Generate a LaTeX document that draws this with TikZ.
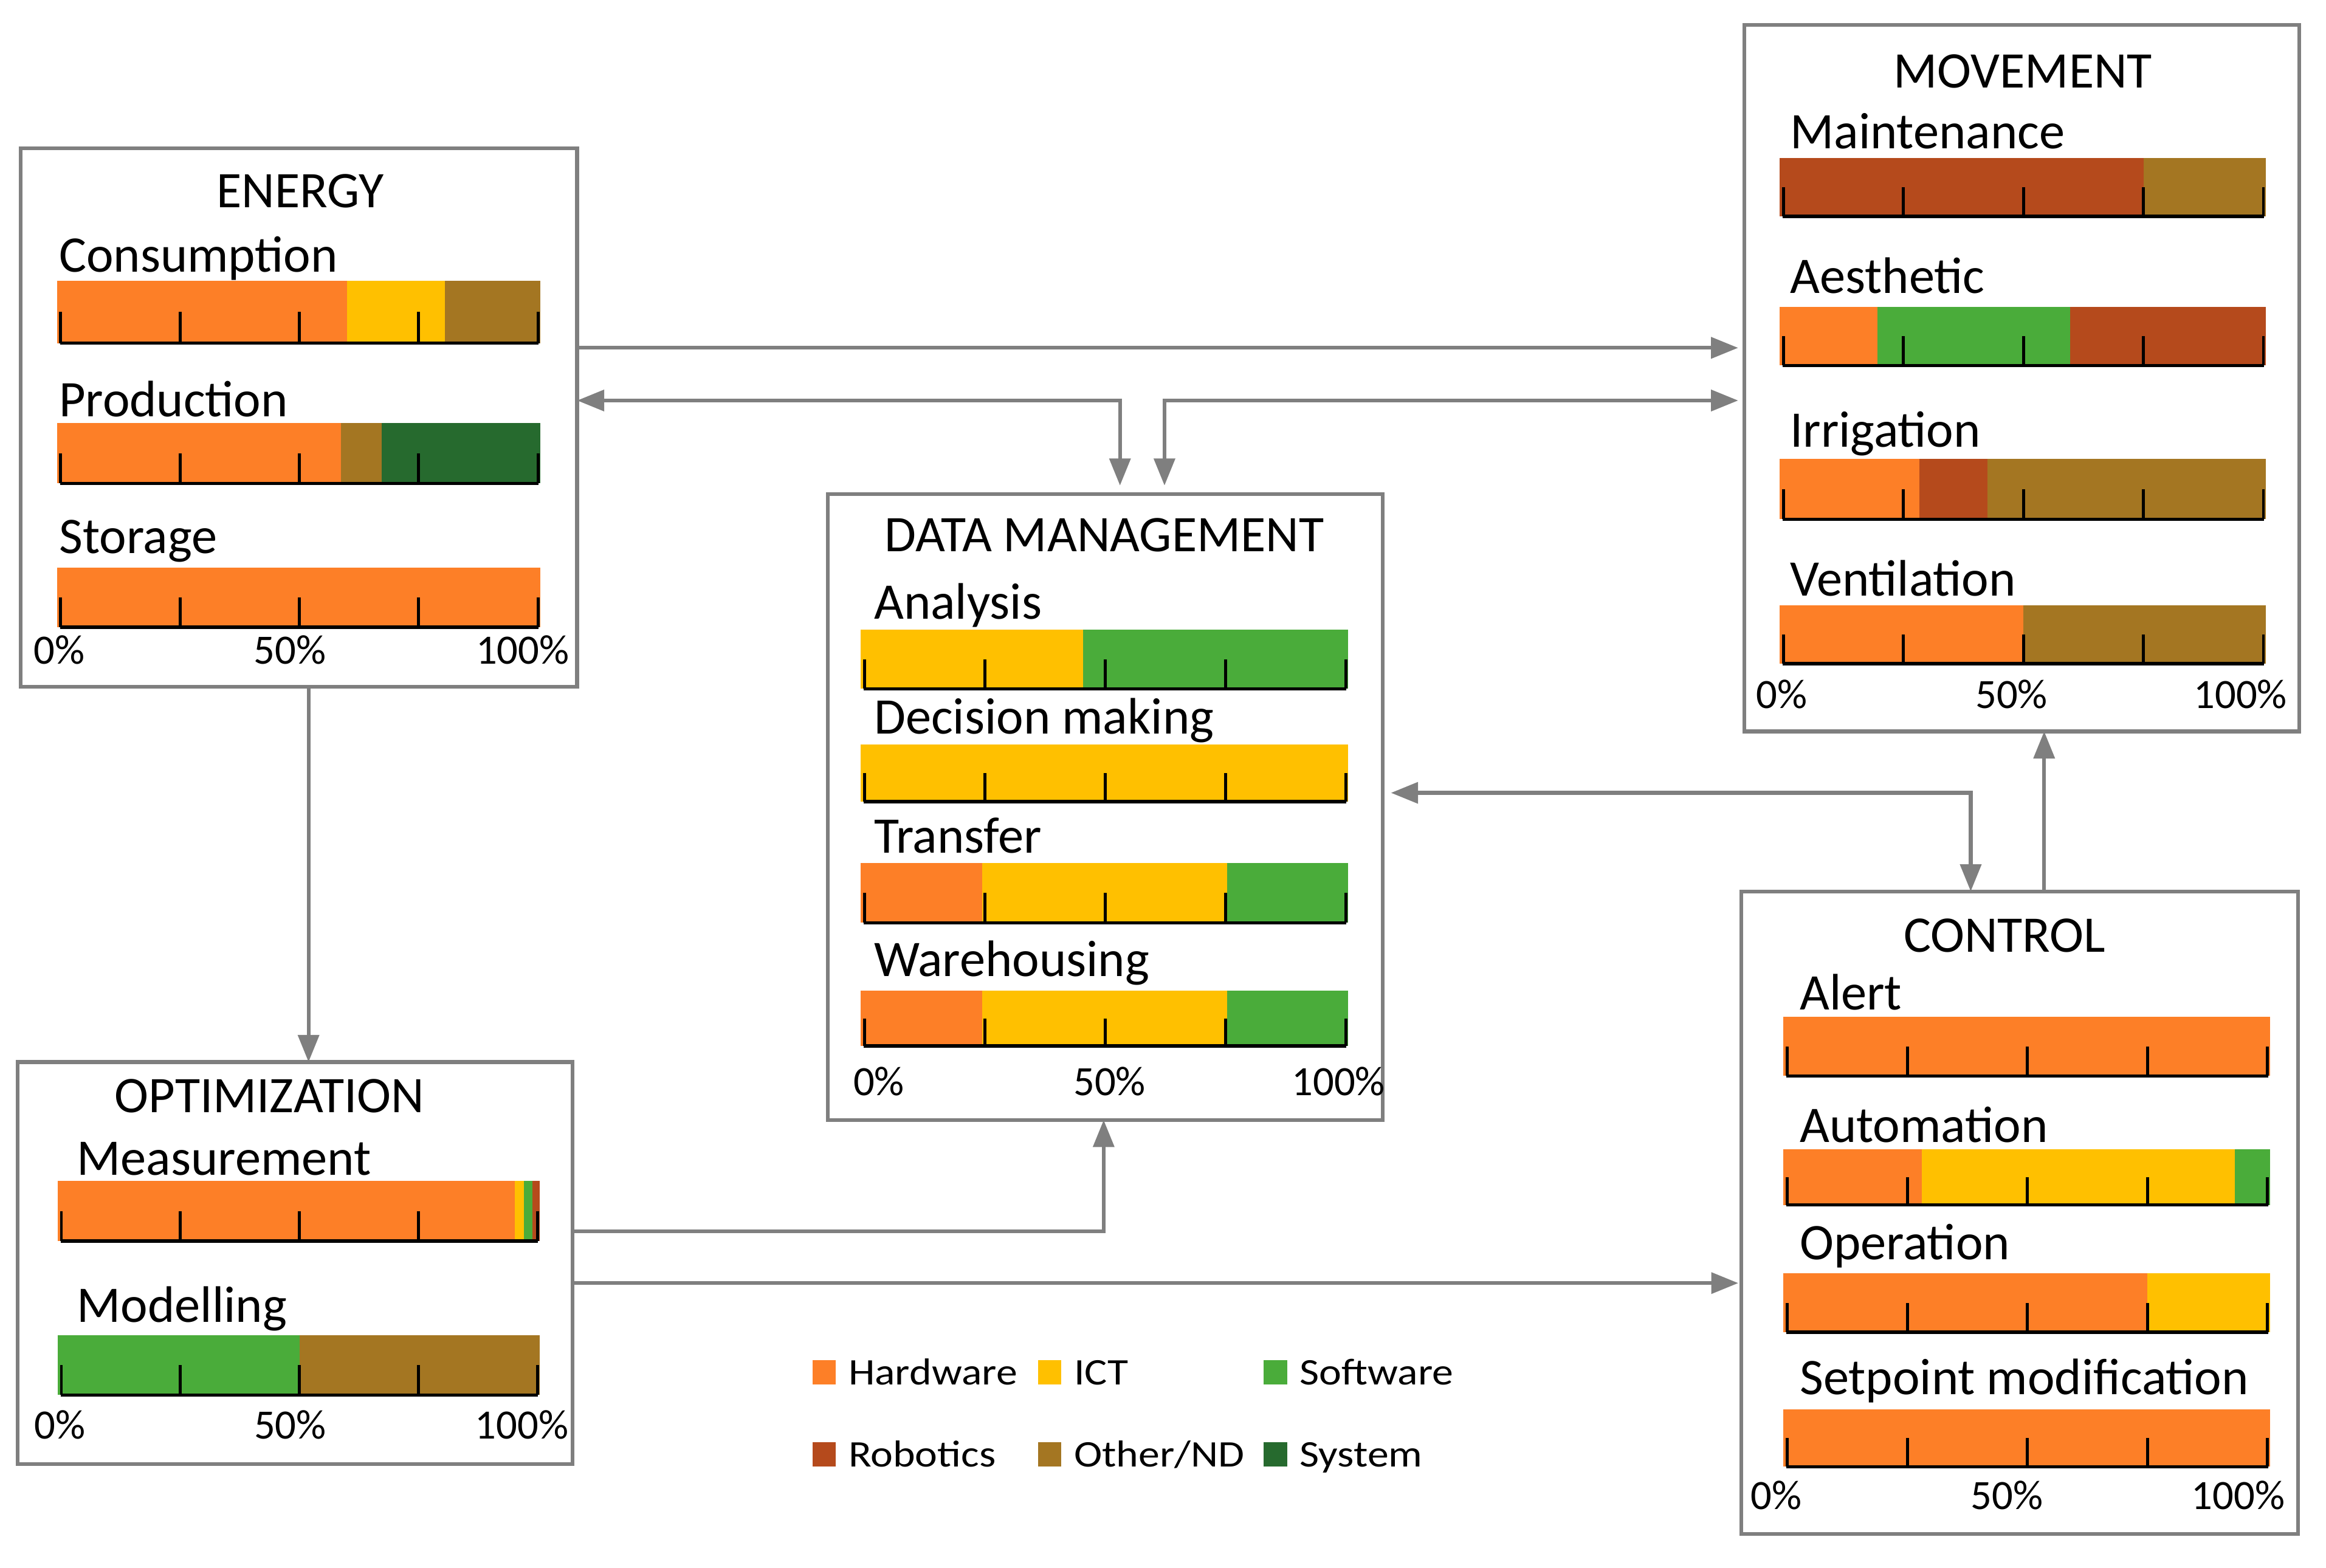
\documentclass[tikz,border=0pt]{standalone}
\usepackage{fontspec}
\setmainfont{Carlito}
\newfontfamily\legfont[FakeStretch=1.13]{Carlito}
\usetikzlibrary{arrows.meta}
\definecolor{hw}{RGB}{253,127,39}
\definecolor{ict}{RGB}{255,192,0}
\definecolor{sw}{RGB}{74,172,58}
\definecolor{rob}{RGB}{181,74,28}
\definecolor{oth}{RGB}{164,118,34}
\definecolor{sys}{RGB}{38,106,46}
\definecolor{lg}{RGB}{127,127,127}
\tikzset{
  box/.style={draw=lg, line width=1.8pt, inner sep=0pt, outer sep=0pt},
  conn/.style={draw=lg, line width=1.8pt, -{Triangle[length=13pt,width=10pt]}},
  both/.style={draw=lg, line width=1.8pt, {Triangle[length=13pt,width=10pt]}-{Triangle[length=13pt,width=10pt]}},
  lab/.style={anchor=base west, inner sep=0pt, font=\fontsize{24.6}{29}\selectfont},
  ttl/.style={anchor=base, inner sep=0pt, font=\fontsize{24.6}{29}\selectfont},
  pct/.style={inner sep=0pt, font=\fontsize{20}{24}\selectfont},
  axisline/.style={line width=1.6pt, black},
  tk/.style={line width=1.4pt, black},
  legsq/.style={anchor=south west, inner sep=0pt, outer sep=0pt, minimum width=0.39cm, minimum height=0.41cm},
  legtx/.style={anchor=base west, inner sep=0pt, font=\legfont\fontsize{18}{22}\selectfont}
}
% bar: L R T B segments
\newcommand{\pbar}[5]{%
  \pgfmathsetmacro{\bw}{(#2-#1)/100}%
  \foreach \a/\b/\c in {#5}{%
    \pgfmathsetmacro{\xa}{#1+\bw*\a}%
    \pgfmathsetmacro{\xb}{#1+\bw*\b}%
    \ifdim\a pt<0.01pt \pgfmathsetmacro{\xa}{#1-2.5}\fi
    \ifdim\b pt>99.99pt \pgfmathsetmacro{\xb}{#2+1.5}\fi
    \fill[\c] (\xa,#3) rectangle (\xb,#4);
  }
  \draw[axisline] (#1-0.5,#4) -- (#2+0.5,#4);
  \foreach \k in {0,25,50,75,100}{%
    \pgfmathsetmacro{\xk}{#1+\bw*\k}%
    \draw[tk] (\xk,#4) -- (\xk,{(#3+#4)/2});
  }
}
\newcommand{\pcts}[5]{%
  \node[pct, anchor=base west] (#1-p0) at (#3,#2) {0\%};
  \node[pct, anchor=base] (#1-p50) at (#4,#2) {50\%};
  \node[pct, anchor=base east] (#1-p100) at (#5,#2) {100\%};
}
\newcommand{\legitem}[5]{%
  \node[legsq, fill=#4] (#1-sq) at (#2,#3) {};
  \node[legtx] (#1) at (#2+24,#3) {#5};
}
\begin{document}
\begin{tikzpicture}[x=0.025cm, y=-0.025cm]
\useasboundingbox (0,0) rectangle (1568,1057);

% boxes
\node[box, minimum width=9.375cm, minimum height=9.075cm] (E) at (201.5,281.5) {};
\node[box, minimum width=9.35cm, minimum height=10.55cm] (D) at (745,544) {};
\node[box, minimum width=9.35cm, minimum height=11.9cm] (M) at (1363,255) {};
\node[box, minimum width=9.35cm, minimum height=6.775cm] (O) at (199,851.5) {};
\node[box, minimum width=9.375cm, minimum height=10.825cm] (C) at (1361.5,817.5) {};

% ENERGY
\node[ttl] (E-t) at (202.5,140) {ENERGY};
\node[lab] (E-l1) at (39.6,183.5) {Consumption};
\pbar{40.9}{362.7}{189.4}{231.3}{0/60/hw,60/80.5/ict,80.5/100/oth}
\node[lab] (E-l2) at (39.6,281) {Production};
\pbar{40.9}{362.7}{285}{325.9}{0/58.7/hw,58.7/67.2/oth,67.2/100/sys}
\node[lab] (E-l3) at (39.6,373) {Storage};
\pbar{40.9}{362.7}{382.6}{422.8}{0/100/hw}
\pcts{E}{447.6}{22.4}{195.5}{384}

% DATA MANAGEMENT
\node[ttl] (D-t) at (744.4,371.7) {DATA MANAGEMENT};
\node[lab] (D-l1) at (589,417.4) {Analysis};
\pbar{582.8}{907.2}{424.3}{464.4}{0/45.4/ict,45.4/100/sw}
\node[lab] (D-l2) at (589,494.9) {Decision making};
\pbar{582.8}{907.2}{501.8}{540.5}{0/100/ict}
\node[lab] (D-l3) at (589,575.1) {Transfer};
\pbar{582.8}{907.2}{582}{622.1}{0/24.4/hw,24.4/75.4/ict,75.4/100/sw}
\node[lab] (D-l4) at (589,658.1) {Warehousing};
\pbar{582.8}{907.2}{667.8}{705.2}{0/24.4/hw,24.4/75.4/ict,75.4/100/sw}
\pcts{D}{738.4}{575}{748}{934}

% MOVEMENT
\node[ttl] (M-t) at (1363.7,59.4) {MOVEMENT};
\node[lab] (M-l1) at (1206.5,100.3) {Maintenance};
\pbar{1202.2}{1525.8}{106.5}{145.8}{0/75.1/rob,75.1/100/oth}
\node[lab] (M-l2) at (1206.5,197.7) {Aesthetic};
\pbar{1202.2}{1525.8}{207.1}{246.4}{0/19.6/hw,19.6/59.7/sw,59.7/100/rob}
\node[lab] (M-l3) at (1206.5,301.4) {Irrigation};
\pbar{1202.2}{1525.8}{309.2}{350.1}{0/28.3/hw,28.3/42.5/rob,42.5/100/oth}
\node[lab] (M-l4) at (1206.5,401.9) {Ventilation};
\pbar{1202.2}{1525.8}{408.2}{447.5}{0/50/hw,50/100/oth}
\pcts{M}{477.5}{1183.6}{1356}{1542}

% OPTIMIZATION
\node[ttl] (O-t) at (181.7,750) {OPTIMIZATION};
\node[lab] (O-l1) at (51.6,792) {Measurement};
\pbar{41.4}{362.3}{796.2}{836.6}{0/95.2/hw,95.2/97.2/ict,97.2/98.9/sw,98.9/100/rob}
\node[lab] (O-l2) at (51.6,891.3) {Modelling};
\pbar{41.4}{362.3}{900}{940.5}{0/50.1/sw,50.1/100/oth}
\pcts{O}{970}{23}{195.6}{383.5}

% CONTROL
\node[ttl] (C-t) at (1351.3,641.9) {CONTROL};
\node[lab] (C-l1) at (1213,680.7) {Alert};
\pbar{1204.8}{1528.6}{685.6}{725.4}{0/100/hw}
\node[lab] (C-l2) at (1213,770) {Automation};
\pbar{1204.8}{1528.6}{774.9}{812.3}{0/28/hw,28/93.2/ict,93.2/100/sw}
\node[lab] (C-l3) at (1213,849.2) {Operation};
\pbar{1204.8}{1528.6}{858.4}{898.1}{0/75/hw,75/100/ict}
\node[lab] (C-l4) at (1213,939.9) {Setpoint modification};
\pbar{1204.8}{1528.6}{950}{988.8}{0/100/hw}
\pcts{C}{1017.6}{1180}{1353}{1540.5}

% legend
\legitem{lg-hw}{547.7}{933.4}{hw}{Hardware}
\legitem{lg-ict}{699.8}{933.4}{ict}{ICT}
\legitem{lg-sw}{852}{933.4}{sw}{Software}
\legitem{lg-rob}{547.7}{988.7}{rob}{Robotics}
\legitem{lg-oth}{699.8}{988.7}{oth}{Other/ND}
\legitem{lg-sys}{852}{988.7}{sys}{System}

% connector helpers
\coordinate (y235) at (0,234.5);
\coordinate (y270) at (0,270);
\coordinate (x755) at (755,0);
\coordinate (x785) at (785,0);
\coordinate (x208) at (208,0);
\coordinate (y830) at (0,830);
\coordinate (x744) at (744,0);
\coordinate (y865) at (0,865);
\coordinate (y535) at (0,534.5);
\coordinate (x1329) at (1328.5,0);
\coordinate (x1378) at (1378,0);

% connectors
\draw[conn, shorten >=3pt] (E.east |- y235) -- (M.west |- y235);
\draw[both, shorten >=4pt] (E.east |- y270) -| (x755 |- D.north);
\draw[both, shorten <=4pt, shorten >=3pt] (x785 |- D.north) |- (M.west |- y270);
\draw[conn] (x208 |- E.south) -- (x208 |- O.north);
\draw[conn] (O.east |- y830) -| (x744 |- D.south);
\draw[conn, shorten >=1.5pt] (O.east |- y865) -- (C.west |- y865);
\draw[both, shorten <=4pt] (D.east |- y535) -| (x1329 |- C.north);
\draw[conn] (x1378 |- C.north) -- (x1378 |- M.south);
\end{tikzpicture}
\end{document}
